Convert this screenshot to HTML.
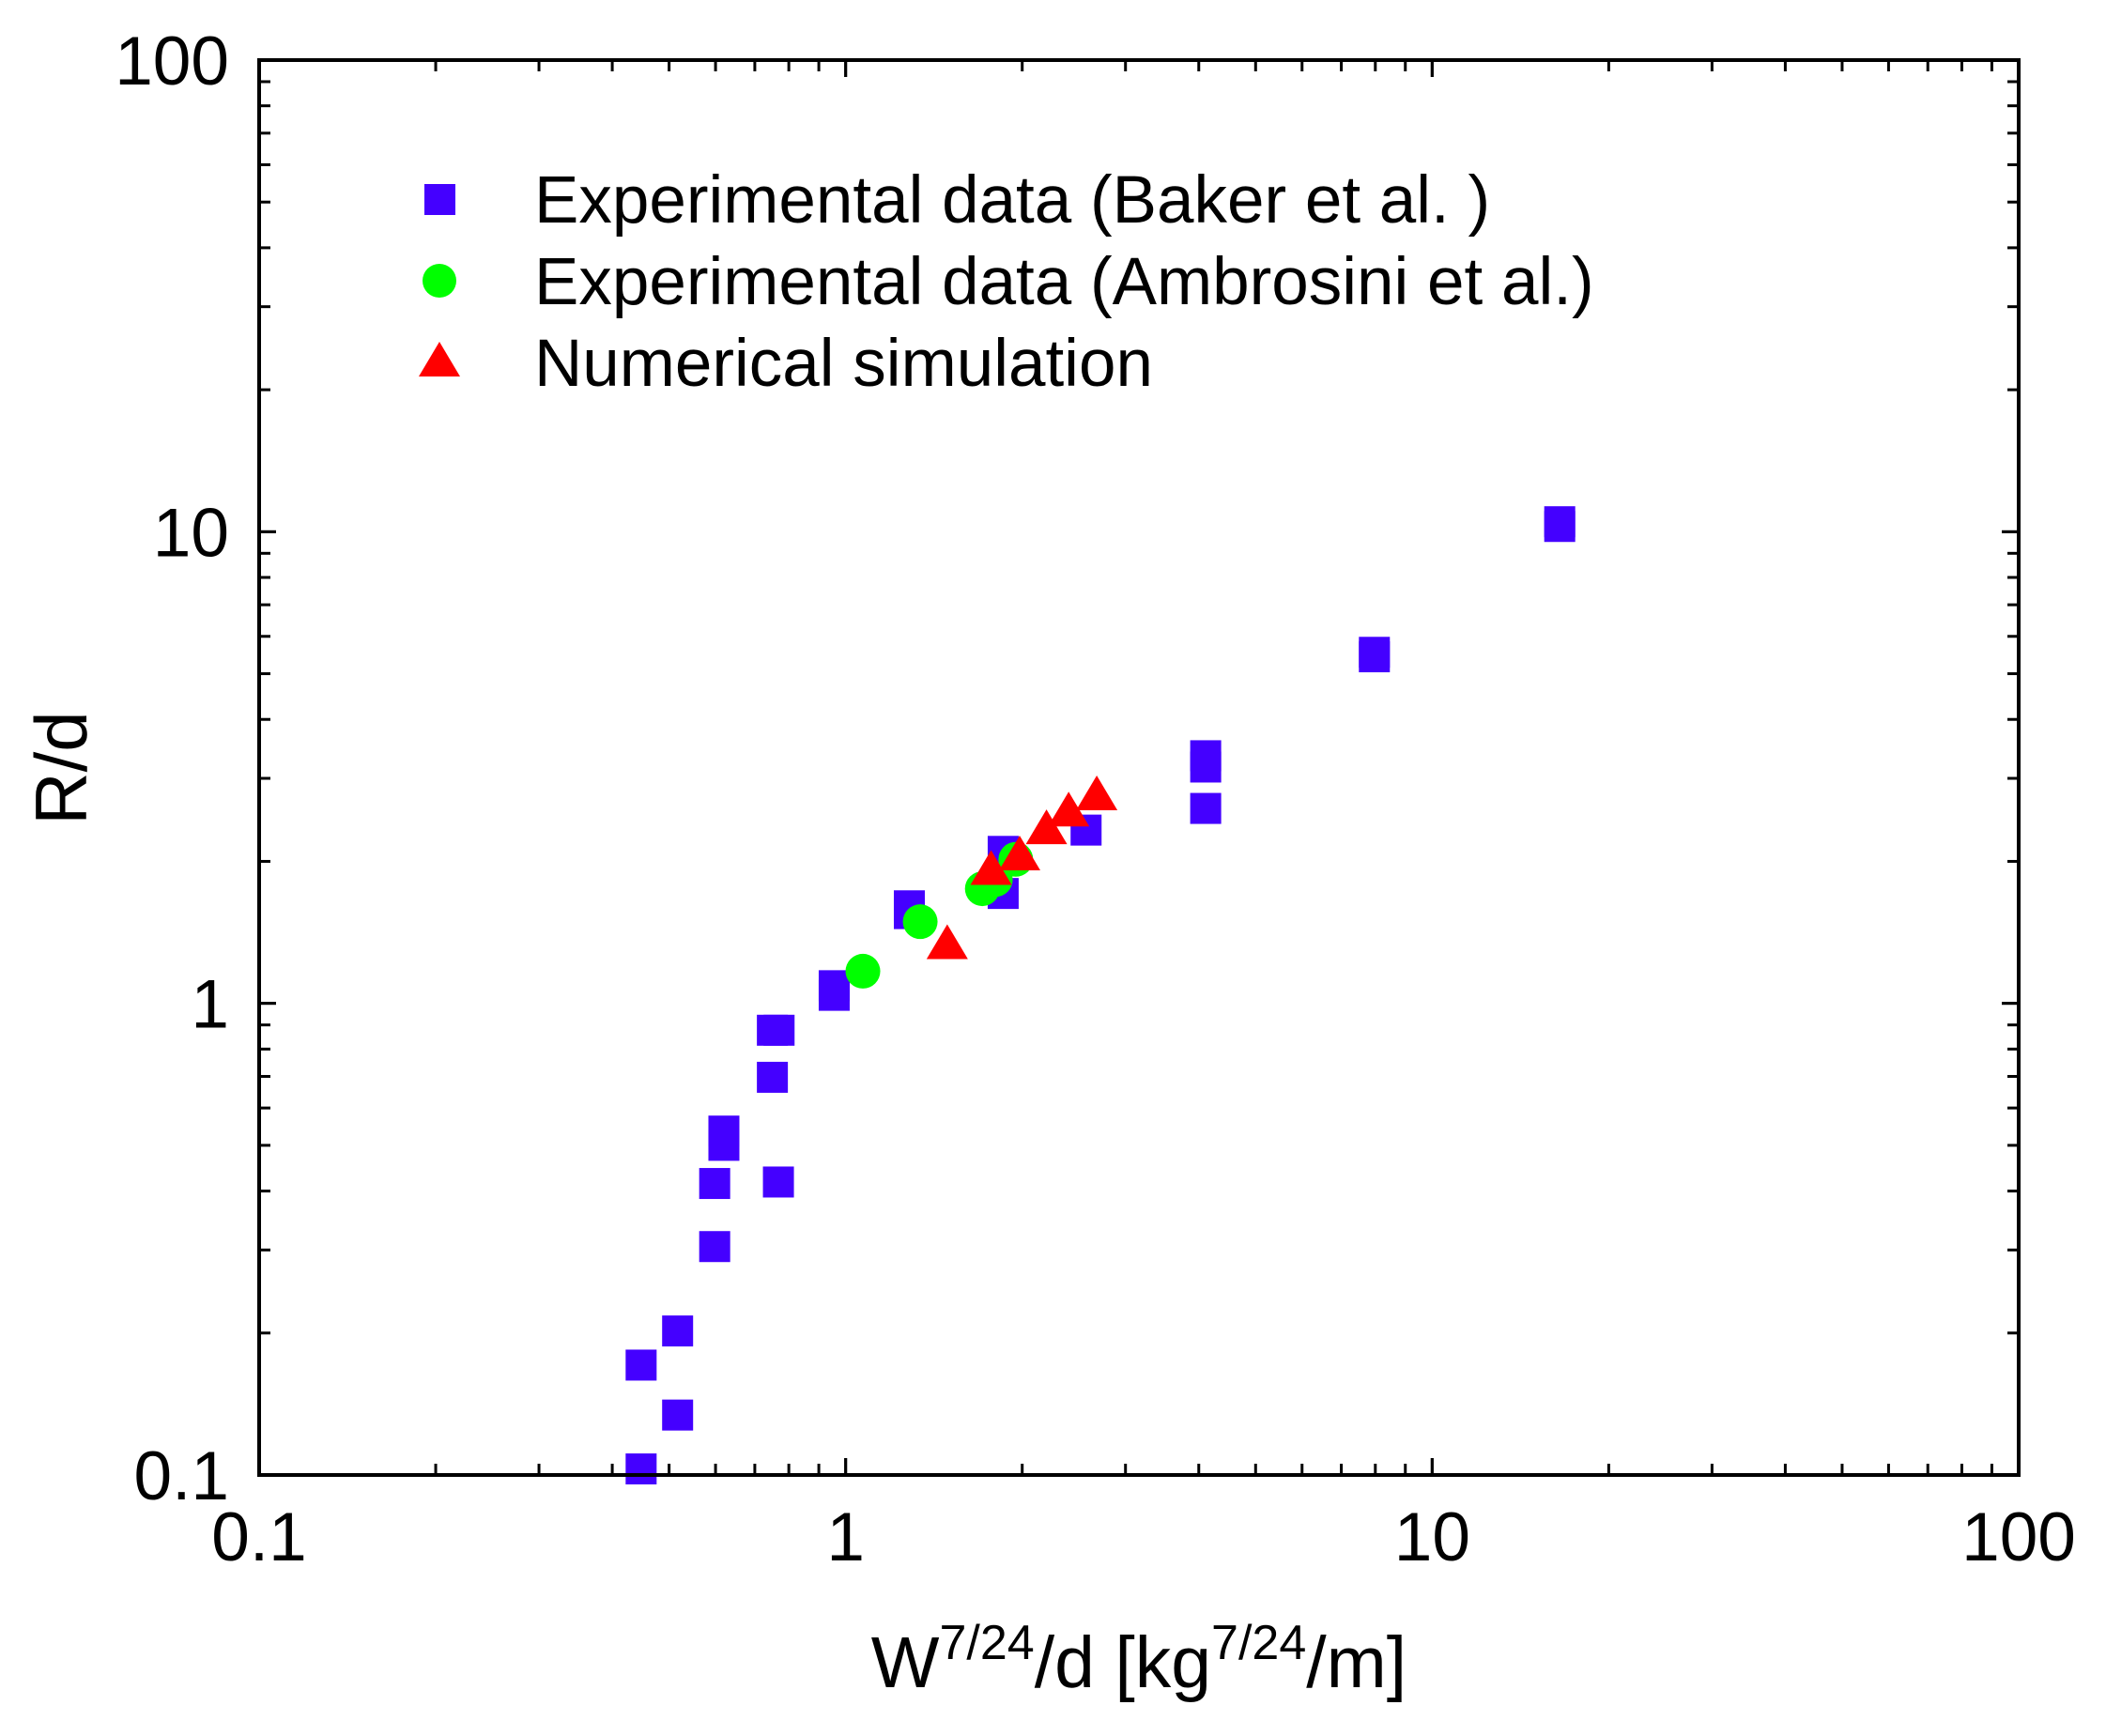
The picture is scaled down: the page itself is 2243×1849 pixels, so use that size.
<!DOCTYPE html>
<html><head><meta charset="utf-8"><style>
html,body{margin:0;padding:0;background:#fff;}
svg{display:block;font-family:"Liberation Sans",Arial,sans-serif;}
</style></head><body>
<svg id="chart" width="2243" height="1849" viewBox="0 0 2243 1849" xmlns="http://www.w3.org/2000/svg">
<g id="ticks"></g>
<g id="marks"></g>
<rect x="276" y="64" width="1874" height="1507" fill="none" stroke="#000" stroke-width="4"/>
<g id="labels" font-size="73"></g>
<text transform="translate(92,818) rotate(-90)" text-anchor="middle" font-size="78">R/d</text>
<text x="1213" y="1797" text-anchor="middle" font-size="77">W<tspan dy="-30" font-size="52">7/24</tspan><tspan dy="30">/d [kg</tspan><tspan dy="-30" font-size="52">7/24</tspan><tspan dy="30">/m]</tspan></text>
<g font-size="71">
<rect x="452" y="196" width="33" height="33" fill="#4400ff"/>
<text x="569" y="237">Experimental data (Baker et al. )</text>
<circle cx="468" cy="299" r="18" fill="#00ff00"/>
<text x="569" y="324">Experimental data (Ambrosini et al.)</text>
<polygon points="468,364 490,401 446,401" fill="#ff0000"/>
<text x="569" y="411">Numerical simulation</text>
</g>
</svg>
<script>
const bakerX=[0.448,0.448,0.517,0.517,0.598,0.598,0.62,0.62,0.75,0.75,0.77,0.768,0.956,0.956,1.284,1.284,1.856,1.856,2.57,4.11,4.11,4.11,7.97,7.97,16.5,16.5];
const bakerY=[0.103,0.171,0.202,0.134,0.305,0.415,0.50,0.536,0.697,0.877,0.877,0.418,1.04,1.09,1.55,1.61,2.10,1.71,2.33,2.59,3.17,3.35,5.43,5.55,10.26,10.5];
const ambX=[1.07,1.34,1.71,1.80,1.95];
const ambY=[1.17,1.49,1.75,1.83,2.02];
const numX=[1.49,1.77,1.98,2.20,2.40,2.68];
const numY=[1.33,1.91,2.05,2.33,2.54,2.75];
const xTickLabels=["0.1","1","10","100"];
const yTickLabels=["0.1","1","10","100"];
const L=276,R=2150,T=64,B=1571;
function sx(v){return L+(Math.log10(v)+1)/3*(R-L);}
function sy(v){return B-(Math.log10(v)+1)/3*(B-T);}
const NS="http://www.w3.org/2000/svg";
function mk(tag,attrs,parent){const e=document.createElementNS(NS,tag);for(const k in attrs)e.setAttribute(k,attrs[k]);parent.appendChild(e);return e;}
const ticks=document.getElementById('ticks'),marks=document.getElementById('marks'),labels=document.getElementById('labels');
for(let d=-1;d<2;d++){for(let m=1;m<=10;m++){const v=m*Math.pow(10,d);const major=(m===1||m===10);const len=major?18:12;
 const x=sx(v),y=sy(v);
 let t=mk('line',{x1:x,x2:x,y1:B,y2:B-len,stroke:'#000','stroke-width':3},ticks);
 
 
 t=mk('line',{x1:x,x2:x,y1:T,y2:T+len,stroke:'#000','stroke-width':3},ticks);
 
 
 t=mk('line',{x1:L,x2:L+len,y1:y,y2:y,stroke:'#000','stroke-width':3},ticks);
 
 
 t=mk('line',{x1:R,x2:R-len,y1:y,y2:y,stroke:'#000','stroke-width':3},ticks);
 
 
}}
xTickLabels.forEach(s=>{const t=mk('text',{x:sx(parseFloat(s)),y:1662,'text-anchor':'middle'},labels);t.textContent=s;
 
 });
yTickLabels.forEach(s=>{const t=mk('text',{x:244,y:sy(parseFloat(s))+26,'text-anchor':'end'},labels);t.textContent=s;
 
 });
bakerX.forEach((v,i)=>{const e=mk('rect',{x:sx(v)-16.5,y:sy(bakerY[i])-16.5,width:33,height:33,fill:'#4400ff'},marks);
 
 });
ambX.forEach((v,i)=>{const e=mk('circle',{cx:sx(v),cy:sy(ambY[i]),r:18.5,fill:'#00ff00'},marks);
 
 });
numX.forEach((v,i)=>{const x=sx(v),y=sy(numY[i]);const e=mk('polygon',{points:`${x},${y-22} ${x+22},${y+15} ${x-22},${y+15}`,fill:'#ff0000'},marks);
 
 });
</script>
</body></html>
